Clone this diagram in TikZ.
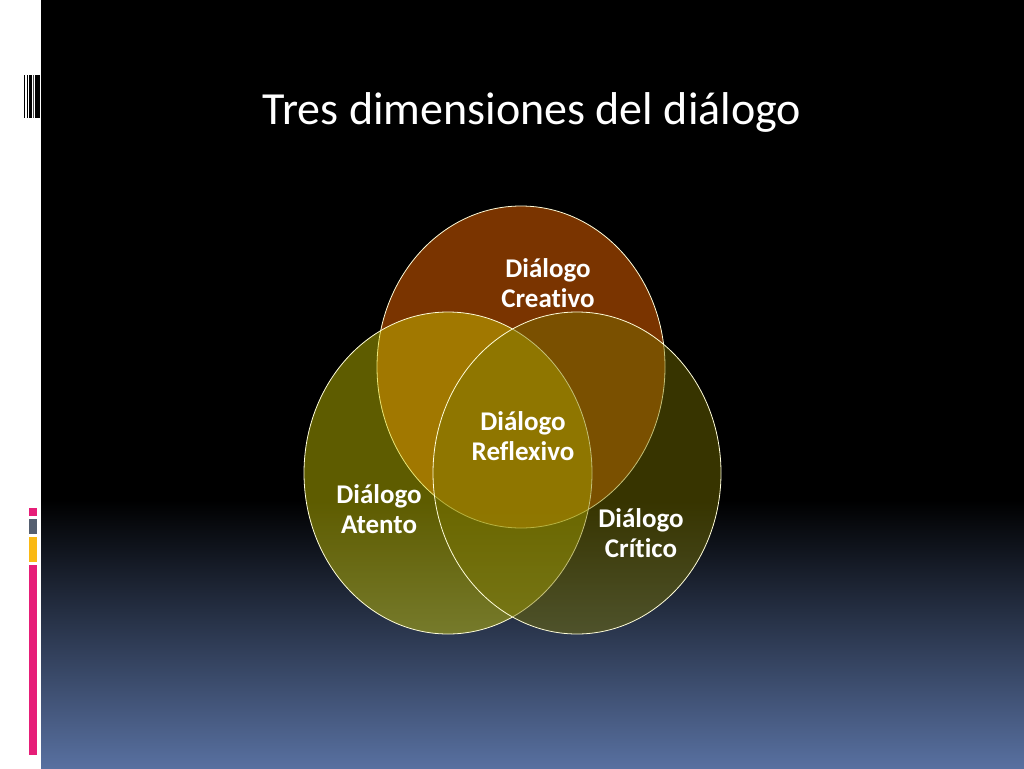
\documentclass[tikz,border=0pt]{standalone}
\usepackage{xcolor}
\usepackage{tikz}
\usepackage{fontspec}
\setmainfont{Carlito}[Ligatures=NoCommon]
\usetikzlibrary{shapes.geometric}

\definecolor{fondoazul}{RGB}{88,112,160}
\definecolor{creativo}{RGB}{244,104,0}
\definecolor{atento}{RGB}{209,204,0}
\definecolor{critico}{RGB}{122,116,0}
\definecolor{rosa}{RGB}{230,30,120}
\definecolor{gris}{RGB}{85,95,112}
\definecolor{amarillo}{RGB}{250,185,20}

\begin{document}
\begin{tikzpicture}[x=1pt,y=-1pt,every path/.style={>=latex},
  circulo/.style={ellipse,draw=white!85!yellow,line width=0.8pt,minimum width=288pt,minimum height=322pt,inner sep=0pt},
  etiqueta/.style={text=white,font=\fontsize{27}{30}\selectfont\bfseries,align=center}]
            \useasboundingbox (0,0) rectangle (1024,768);
            % fondo
            \fill[white] (0,0) rectangle (41,768);
            \fill[black] (41,0) rectangle (1024,500);
            \fill[top color=black,bottom color=fondoazul] (41,500) rectangle (1024,768);
            % barra izquierda
            \fill[black] (24,75) rectangle (25,118);
            \fill[black] (26.5,75) rectangle (27.5,118);
            \fill[black] (28.5,75) rectangle (32,118);
            \fill[black!70] (33,75) rectangle (34,118);
            \fill[black] (34.5,75) rectangle (39.5,118);
            \fill[rosa] (28.5,508) rectangle (37,516);
            \fill[gris] (28.5,519) rectangle (37,534);
            \fill[amarillo] (28.5,537) rectangle (37,562);
            \fill[rosa] (28.5,565) rectangle (37,755);
            % titulo
            \node[text=white,font=\fontsize{46}{52}\selectfont] (titulo) at (532,112) {Tres dimensiones del diálogo};
            % circulos
            \node[circulo,fill=creativo,fill opacity=0.5] (c1) at (521,367) {};
            \node[circulo,fill=atento,fill opacity=0.45] (c2) at (448,473) {};
            \node[circulo,fill=critico,fill opacity=0.45] (c3) at (577,473) {};
            % textos
            \node[etiqueta] (creat) at (548,283) {Diálogo\\Creativo};
            \node[etiqueta] (refl) at (523,436) {Diálogo\\Reflexivo};
            \node[etiqueta] (aten) at (379,509) {Diálogo\\Atento};
            \node[etiqueta] (crit) at (641,533) {Diálogo\\Crítico};
        \end{tikzpicture}
\end{document}
